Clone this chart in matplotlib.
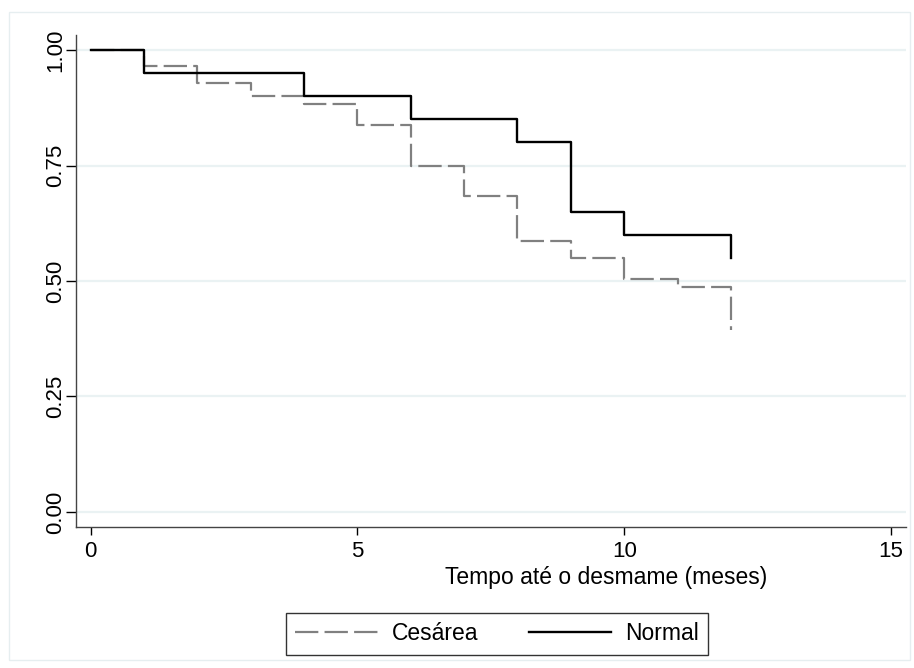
import matplotlib.pyplot as plt
from matplotlib.patches import Rectangle

plt.rcParams['font.family'] = ['Liberation Sans', 'DejaVu Sans']

# curvas de sobrevida (Kaplan-Meier) por tipo de parto
tempo_cesarea = [0, 1, 2, 3, 4, 5, 6, 7, 8, 9, 10, 11, 12]
sobrev_cesarea = [1.0, 0.966, 0.929, 0.900, 0.883, 0.837, 0.750, 0.684, 0.586, 0.550, 0.504, 0.487, 0.393]

tempo_normal = [0, 1, 4, 6, 8, 9, 10, 12]
sobrev_normal = [1.0, 0.95, 0.90, 0.85, 0.80, 0.65, 0.60, 0.55]

yticks = [0.0, 0.25, 0.50, 0.75, 1.0]
ytick_labels = ['0.00', '0.25', '0.50', '0.75', '1.00']
xticks = [0, 5, 10, 15]

W, H = 914, 668
fig = plt.figure(figsize=(W / 100, H / 100), dpi=100)
fig.patch.set_facecolor('white')
fig.patches.append(Rectangle((9 / W, 8 / H), 901 / W, 648 / H, transform=fig.transFigure,
                             fill=False, edgecolor='#E6EEF0', linewidth=1))

ax = fig.add_axes([76 / W, 1 - 527 / H, 830 / W, 492 / H])
for y in yticks:
    ax.axhline(y, color='#EAF2F3', linewidth=1.6, zorder=0)

ax.step(tempo_cesarea, sobrev_cesarea, where='post', color='#808080', linewidth=1.6,
        dashes=(10.5, 2.8), label='Cesárea')
ax.step(tempo_normal, sobrev_normal, where='post', color='black', linewidth=1.7,
        label='Normal')

ax.set_xlim(-0.272, 15.28)
ax.set_ylim(-0.0325, 1.0325)
ax.set_xticks(xticks)
ax.set_yticks(yticks)
ax.set_yticklabels(ytick_labels, rotation=90, va='center')
ax.tick_params(direction='out', width=1, colors='black', labelsize=16)
ax.tick_params(axis='y', length=7, pad=0)
ax.tick_params(axis='x', length=6, pad=4)
for s in ['top', 'right']:
    ax.spines[s].set_visible(False)
for s in ['left', 'bottom']:
    ax.spines[s].set_color('#444444')
    ax.spines[s].set_linewidth(1)

fig.text(606 / W, 1 - 584 / H, 'Tempo até o desmame (meses)', ha='center', va='baseline',
         fontsize=16.5)

leg = fig.legend(loc='center', bbox_to_anchor=(497 / W, 1 - 634 / H), ncol=2,
                 frameon=True, fancybox=False, fontsize=16.5, handlelength=3.6,
                 handletextpad=0.6, columnspacing=2.2, borderpad=0.4, edgecolor='black')
leg.get_frame().set_linewidth(1)

fig.savefig('out.png', dpi=100)
